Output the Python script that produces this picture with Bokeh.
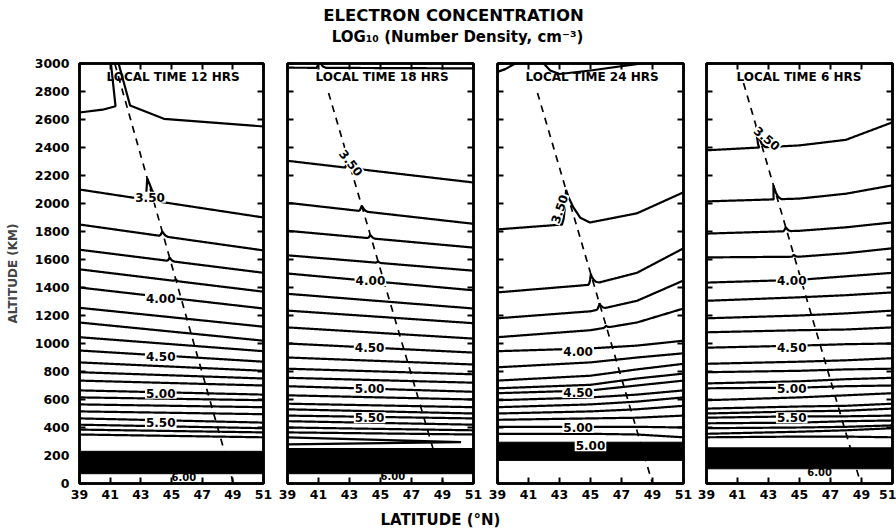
import numpy as np
from bokeh.plotting import figure
from bokeh.layouts import row, column
from bokeh.models import Range1d, LinearAxis, FixedTicker, CustomJSTickFormatter
from bokeh.core.properties import value
from bokeh.embed import file_html
from bokeh.resources import INLINE

FONT = "DejaVu Sans"

TITLE = "ELECTRON CONCENTRATION"
SUBTITLE = "LOG\u2081\u2080 (Number Density, cm\u207b\u00b3)"
X_TITLE = "LATITUDE (\u00b0N)"
Y_TITLE = "ALTITUDE (KM)"
TIMES = ["LOCAL TIME 12 HRS", "LOCAL TIME 18 HRS", "LOCAL TIME 24 HRS", "LOCAL TIME  6 HRS"]
LAT_TICKS = [39, 41, 43, 45, 47, 49, 51]
ALT_TICKS = [0, 200, 400, 600, 800, 1000, 1200, 1400, 1600, 1800, 2000, 2200, 2400, 2600, 2800, 3000]

# ---------------- 12 HRS : contour altitudes (km) at 39N and 51N ----------------
p12_lat = [39, 51]
p12_a39 = [2100, 1850, 1670, 1530, 1400, 1255, 1150, 1045, 950, 865, 795, 735, 665, 615, 565, 515, 465, 420, 385, 350]
p12_a51 = [1900, 1665, 1505, 1370, 1250, 1120, 1020, 945, 870, 805, 750, 700, 635, 595, 545, 495, 435, 395, 365, 330]
p12_cusp_h = [160, 35, 25, 12]
p12_cusp_w = [0.55, 0.3, 0.25, 0.2]
p12_top_lat = [39, 40.5, 41.35, 41.05, 41.55, 42.3, 44.5, 51]
p12_top_alt = [2650, 2670, 2695, 3000, 3000, 2700, 2605, 2550]
p12_lbl = ["3.50", "4.00", "4.50", "5.00", "5.50", "6.00"]
p12_lbl_lat = [43.6, 44.3, 44.3, 44.3, 44.3, 45.8]
p12_lbl_alt = [2045, 1320, 905, 645, 435, 48]
p12_lbl_ang = [0, 0, 0, 0, 0, 0]

# ---------------- 18 HRS ----------------
p18_lat = [39, 51]
p18_a39 = [2970, 2305, 2005, 1805, 1630, 1500, 1355, 1235, 1115, 1000, 900, 820, 755, 695, 630, 570, 530, 485, 445, 400, 365]
p18_a51 = [2965, 2150, 1855, 1685, 1520, 1380, 1250, 1145, 1035, 935, 850, 780, 720, 655, 600, 545, 500, 465, 420, 380, 350]
p18_cusp_h = [60, 90, 40, 25, 10]
p18_cusp_w = [0.3, 0.35, 0.3, 0.25, 0.2]
p18_wedge_lat = [39, 50.2, 39]
p18_wedge_alt = [330, 295, 280]
p18_lbl = ["3.50", "4.00", "4.50", "5.00", "5.50", "6.00"]
p18_lbl_lat = [43.1, 44.35, 44.3, 44.3, 44.3, 45.8]
p18_lbl_alt = [2290, 1450, 970, 680, 470, 55]
p18_lbl_ang = [-0.9, 0, 0, 0, 0, 0]

# ---------------- 24 HRS : altitudes at 39, 45, 48, 51 N ----------------
p24_lat = [39, 45, 48, 51]
p24_a39 = [1815, 1365, 1180, 1045, 945, 830, 735, 680, 645, 595, 545, 500, 455, 405, 355]
p24_a45 = [1865, 1420, 1230, 1095, 965, 865, 770, 705, 665, 615, 565, 515, 465, 405, 355]
p24_a48 = [1930, 1505, 1305, 1150, 985, 900, 815, 750, 700, 635, 585, 530, 470, 405, 350]
p24_a51 = [2080, 1680, 1450, 1250, 1020, 930, 855, 785, 735, 665, 615, 555, 485, 400, 330]
p24_cusp_h = [240, 70, 40, 15]
p24_cusp_w = [0.9, 0.35, 0.3, 0.2]
p24_top1_lat = [39, 39.5, 40.0, 40.3]
p24_top1_alt = [2940, 2960, 2990, 3010]
p24_top2_lat = [41.9, 42.4, 43.0, 45.0, 48.9]
p24_top2_alt = [3010, 2950, 2925, 2950, 3010]
p24_lbl = ["3.50", "4.00", "4.50", "5.00", "5.00"]
p24_lbl_lat = [43.0, 44.2, 44.2, 44.2, 45.0]
p24_lbl_alt = [1960, 945, 650, 400, 270]
p24_lbl_ang = [1.25, 0, 0, 0, 0]

# ---------------- 6 HRS ----------------
p06_lat = [39, 45, 48, 51]
p06_a39 = [2380, 2015, 1785, 1615, 1435, 1305, 1180, 1080, 970, 855, 795, 715, 680, 595, 535, 500, 470, 430, 395, 355, 330]
p06_a45 = [2415, 2035, 1805, 1620, 1455, 1330, 1200, 1095, 985, 870, 805, 730, 685, 615, 550, 515, 480, 435, 400, 370, 335]
p06_a48 = [2455, 2070, 1830, 1645, 1480, 1345, 1215, 1100, 995, 880, 815, 745, 695, 630, 555, 520, 480, 445, 405, 380, 335]
p06_a51 = [2580, 2130, 1865, 1680, 1505, 1365, 1235, 1115, 1000, 895, 820, 755, 700, 645, 570, 535, 485, 450, 415, 395, 330]
p06_cusp_h = [150, 100, 30, 15]
p06_cusp_w = [0.2, 0.25, 0.25, 0.2]
p06_lbl = ["3.50", "4.00", "4.50", "5.00", "5.50", "6.00"]
p06_lbl_lat = [42.9, 44.5, 44.5, 44.5, 44.5, 46.3]
p06_lbl_alt = [2465, 1450, 970, 680, 470, 80]
p06_lbl_ang = [-0.7, 0, 0, 0, 0, 0]

# dense bottom band (km) and the dashed field line
BAND_TOP = [230, 250, 295, 255]
BAND_BOT = [70, 70, 165, 105]
DASH_TOP_LAT = [41.3, 41.65, 41.58, 41.39]
DASH_TOP_ALT = [3000, 2790, 2790, 2860]
DASH_BOT_LAT = [49.04, 49.05, 49.0, 48.95]

PANELS = [
    dict(nodes=p12_lat, alts=[p12_a39, p12_a51], ch=p12_cusp_h, cw=p12_cusp_w,
         extra=[(p12_top_lat, p12_top_alt)],
         lbl=(p12_lbl, p12_lbl_lat, p12_lbl_alt, p12_lbl_ang)),
    dict(nodes=p18_lat, alts=[p18_a39, p18_a51], ch=p18_cusp_h, cw=p18_cusp_w,
         extra=[(p18_wedge_lat, p18_wedge_alt)],
         lbl=(p18_lbl, p18_lbl_lat, p18_lbl_alt, p18_lbl_ang)),
    dict(nodes=p24_lat, alts=[p24_a39, p24_a45, p24_a48, p24_a51], ch=p24_cusp_h, cw=p24_cusp_w,
         extra=[(p24_top1_lat, p24_top1_alt), (p24_top2_lat, p24_top2_alt)],
         lbl=(p24_lbl, p24_lbl_lat, p24_lbl_alt, p24_lbl_ang)),
    dict(nodes=p06_lat, alts=[p06_a39, p06_a45, p06_a48, p06_a51], ch=p06_cusp_h, cw=p06_cusp_w,
         extra=[],
         lbl=(p06_lbl, p06_lbl_lat, p06_lbl_alt, p06_lbl_ang)),
]


def dash_lat(alt, i):
    return DASH_BOT_LAT[i] + (DASH_TOP_LAT[i] - DASH_BOT_LAT[i]) * np.asarray(alt) / DASH_TOP_ALT[i]


def contour(nodes, alts, i, h=0.0, w=0.3):
    lat = np.linspace(LAT_TICKS[0], LAT_TICKS[-1], 241)
    alt = np.interp(lat, nodes, alts)
    if h <= 0:
        return list(lat), list(alt)
    diff = lat - dash_lat(alt, i)
    k = np.where(np.diff(np.sign(diff)) != 0)[0]
    if len(k) == 0:
        return list(lat), list(alt)
    k = k[0]
    f = diff[k] / (diff[k] - diff[k + 1])
    lc = lat[k] + f * (lat[k + 1] - lat[k])
    ac = float(np.interp(lc, nodes, alts))
    apex_alt = ac + h
    apex_lat = float(dash_lat(apex_alt, i))      # cusp tip sits on the field line
    lo, hi = lc - w, lc + w
    t = np.array([0.0, 0.4, 0.7, 0.9])
    left_x = lo + t * (apex_lat - lo)
    left_y = np.interp(left_x, nodes, alts) + h * t ** 2
    tr = t[::-1]
    right_x = hi + tr * (apex_lat - hi)
    right_y = np.interp(right_x, nodes, alts) + h * tr ** 2
    ml = lat < lo
    mr = lat > hi
    xs = np.concatenate([lat[ml], left_x, [apex_lat], right_x, lat[mr]])
    ys = np.concatenate([alt[ml], left_y, [apex_alt], right_y, alt[mr]])
    return list(xs), list(ys)


def style_axis(ax, ticks, labels):
    ax.ticker = FixedTicker(ticks=ticks, minor_ticks=[])
    ax.major_tick_in = 6
    ax.major_tick_out = 0
    ax.minor_tick_in = 0
    ax.minor_tick_out = 0
    ax.major_tick_line_width = 2
    ax.major_tick_line_color = "black"
    ax.axis_line_width = 2.5
    ax.axis_line_color = "black"
    if labels:
        ax.major_label_text_font = FONT
        ax.major_label_text_font_style = "bold"
        ax.major_label_text_font_size = "12.5px"
        ax.major_label_text_color = "black"
    else:
        ax.formatter = CustomJSTickFormatter(code="return ''")
        ax.major_label_text_font_size = "1px"
        ax.major_label_standoff = 0


LEFTS = [79, 12, 12, 12]
RIGHTS = [12, 12, 11, 4]
FRAMES = [184, 186, 186, 186]
TIME_LAT = 45.1
TIME_ALT = 2905

figs = []
for i, pan in enumerate(PANELS):
    p = figure(width=LEFTS[i] + FRAMES[i] + RIGHTS[i], height=455,
               x_range=Range1d(LAT_TICKS[0], LAT_TICKS[-1]),
               y_range=Range1d(ALT_TICKS[0], ALT_TICKS[-1]),
               output_backend="svg", toolbar_location=None,
               min_border_left=LEFTS[i], min_border_right=RIGHTS[i],
               min_border_top=13, min_border_bottom=22)
    p.xgrid.visible = False
    p.ygrid.visible = False
    p.outline_line_color = "black"
    p.outline_line_width = 2.5
    p.background_fill_color = "white"
    p.border_fill_color = "white"

    style_axis(p.xaxis[0], LAT_TICKS, True)
    p.xaxis[0].major_label_standoff = 6
    style_axis(p.yaxis[0], ALT_TICKS, i == 0)
    if i == 0:
        p.yaxis[0].major_label_standoff = 10
        p.yaxis[0].axis_label = Y_TITLE
        p.yaxis[0].axis_label_text_font = FONT
        p.yaxis[0].axis_label_text_font_style = "bold"
        p.yaxis[0].axis_label_text_font_size = "12px"
        p.yaxis[0].axis_label_standoff = 12
    ra = LinearAxis()
    style_axis(ra, ALT_TICKS, False)
    p.add_layout(ra, "right")
    ta = LinearAxis()
    style_axis(ta, LAT_TICKS, False)
    p.add_layout(ta, "above")

    # dense band of closely packed contours
    p.quad(left=[LAT_TICKS[0]], right=[LAT_TICKS[-1]], bottom=[BAND_BOT[i]], top=[BAND_TOP[i]],
           fill_color="black", line_color="black")

    xs_all, ys_all = [], []
    n = len(pan["alts"][0])
    for j in range(n):
        alts = [col[j] for col in pan["alts"]]
        h = pan["ch"][j] if j < len(pan["ch"]) else 0
        w = pan["cw"][j] if j < len(pan["cw"]) else 0.3
        xs, ys = contour(pan["nodes"], alts, i, h, w)
        xs_all.append(xs)
        ys_all.append(ys)
    for ex_lat, ex_alt in pan["extra"]:
        xs_all.append(list(ex_lat))
        ys_all.append(list(ex_alt))
    p.multi_line(xs_all, ys_all, line_color="black", line_width=2.2)

    # dashed field line
    p.line([DASH_TOP_LAT[i], DASH_BOT_LAT[i]], [DASH_TOP_ALT[i], 0],
           line_color="black", line_width=1.7, line_dash="7 6")

    txt, llat, lalt, lang = pan["lbl"]
    main = [k for k, t in enumerate(txt) if t != "6.00"]
    six = [k for k, t in enumerate(txt) if t == "6.00"]
    p.text(x=[llat[k] for k in main], y=[lalt[k] for k in main], text=[txt[k] for k in main],
           angle=[lang[k] for k in main],
           text_font=value(FONT), text_font_style="bold", text_font_size="12px",
           text_align="center", text_baseline="middle", text_color="black",
           background_fill_color="white", padding=1)
    if six:
        p.text(x=[llat[k] for k in six], y=[lalt[k] for k in six], text=[txt[k] for k in six],
               text_font=value(FONT), text_font_style="bold", text_font_size="10px",
               text_align="center", text_baseline="middle", text_color="black")

    p.text(x=[TIME_LAT], y=[TIME_ALT], text=[TIMES[i]],
           text_font=value(FONT), text_font_style="bold", text_font_size="12px",
           text_align="center", text_baseline="middle", text_color="black")
    figs.append(p)


def blank(h):
    b = figure(width=896, height=h, x_range=Range1d(0, 896), y_range=Range1d(0, h),
               output_backend="svg", toolbar_location=None, min_border=0,
               x_axis_type=None, y_axis_type=None)
    b.grid.visible = False
    b.outline_line_color = None
    return b


top = blank(50)
top.text(x=[453], y=[35], text=[TITLE], text_font=value(FONT), text_font_style="bold",
         text_font_size="16.5px", text_align="center", text_baseline="middle", text_color="black")
top.text(x=[457], y=[14], text=[SUBTITLE], text_font=value(FONT), text_font_style="bold",
         text_font_size="15px", text_align="center", text_baseline="middle", text_color="black")

bot = blank(25)
bot.text(x=[440], y=[11], text=[X_TITLE], text_font=value(FONT), text_font_style="bold",
         text_font_size="15px", text_align="center", text_baseline="middle", text_color="black")

layout = column(top, row(*figs), bot)
open("out.html", "w").write(file_html(layout, INLINE))
